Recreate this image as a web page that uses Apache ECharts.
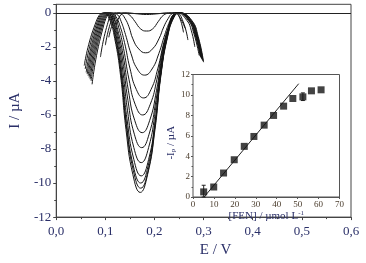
<!DOCTYPE html>
<html lang="en">
<head>
    <meta charset="UTF-8">
    <title>DPV FEN</title>
    <style>
        html, body { margin: 0; padding: 0; background: #fff; }
    </style>
</head>
<body>
    <div id="main" style="width: 366px;height:263px;"></div>
    <script src="https://cdn.jsdelivr.net/npm/echarts@6/dist/echarts.min.js"></script>
    <script type="text/javascript">
        var myChart = echarts.init(document.getElementById('main'));

        // voltammograms, [E / V, I / uA] (shallowest first)
        var curve0 = [[.122,-.7],[.132,-.1],[.142,0],[.165,-.06],[.184,-.1],[.205,-.06],[.228,0],[.240,0],[.252,-.3],[.262,-.9]];
        var curve1 = [[.107,-1.44],[.117,-.45],[.127,0],[.140,-.02],[.150,-.15],[.160,-.5],[.172,-.95],[.184,-1.07],[.196,-.95],[.208,-.5],[.218,-.15],[.230,-.02],[.244,0],[.252,-.35],[.259,-1.15]];
        var curve2 = [[.100,-1.9],[.111,-.55],[.122,0],[.132,-.06],[.140,-.33],[.148,-.82],[.156,-1.53],[.168,-2.12],[.182,-2.35],[.196,-2.12],[.209,-1.53],[.219,-.82],[.228,-.33],[.236,-.05],[.245,0],[.258,-.5],[.268,-1.6]];
        var curve3 = [[.090,-2.6],[.104,-.7],[.117,0],[.125,-.12],[.132,-.5],[.141,-1.28],[.152,-2.38],[.165,-3.3],[.180,-3.66],[.195,-3.3],[.209,-2.38],[.221,-1.28],[.231,-.5],[.239,-.08],[.246,0],[.266,-.45],[.275,-1.05],[.282,-2.0]];
        var curve4 = [[.073,-4.2],[.093,-1.13],[.113,0],[.121,-.2],[.129,-.7],[.139,-1.75],[.150,-3.25],[.163,-4.5],[.178,-5.0],[.193,-4.5],[.207,-3.25],[.219,-1.75],[.230,-.7],[.239,-.1],[.247,0],[.269,-.45],[.280,-1.2],[.291,-2.5]];
        var curve5 = [[.071,-4.0],[.091,-1.08],[.111,0],[.119,-.22],[.127,-.84],[.137,-2.1],[.148,-3.9],[.161,-5.4],[.176,-6.0],[.191,-5.4],[.205,-3.9],[.217,-2.1],[.229,-.84],[.238,-.12],[.248,0],[.270,-.45],[.282,-1.25],[.293,-2.55]];
        var curve6 = [[.069,-3.9],[.089,-1.05],[.109,0],[.117,-.25],[.125,-.98],[.136,-2.46],[.147,-4.58],[.160,-6.34],[.175,-7.04],[.190,-6.34],[.204,-4.58],[.216,-2.46],[.228,-.98],[.238,-.15],[.248,0],[.271,-.45],[.283,-1.25],[.294,-2.6]];
        var curve7 = [[.067,-3.8],[.087,-1.03],[.107,0],[.116,-.28],[.124,-1.1],[.135,-2.77],[.146,-5.15],[.159,-7.13],[.174,-7.92],[.189,-7.13],[.203,-5.15],[.215,-2.77],[.227,-1.1],[.238,-.18],[.249,0],[.272,-.45],[.284,-1.3],[.295,-2.65]];
        var curve8 = [[.065,-3.7],[.085,-1.0],[.105,0],[.114,-.3],[.123,-1.23],[.134,-3.08],[.145,-5.72],[.158,-7.92],[.173,-8.8],[.188,-7.92],[.202,-5.72],[.214,-3.08],[.226,-1.23],[.238,-.2],[.249,0],[.272,-.45],[.285,-1.3],[.296,-2.7]];
        var curve9 = [[.063,-3.6],[.083,-.97],[.103,0],[.113,-.3],[.122,-1.34],[.133,-3.35],[.144,-6.23],[.158,-8.62],[.173,-9.58],[.188,-8.62],[.202,-6.23],[.214,-3.35],[.226,-1.34],[.239,-.2],[.250,0],[.273,-.45],[.286,-1.35],[.297,-2.75]];
        var curve10 = [[.061,-3.5],[.081,-.95],[.101,0],[.111,-.3],[.121,-1.4],[.132,-3.5],[.143,-6.5],[.157,-9.0],[.172,-10.0],[.187,-9.0],[.201,-6.5],[.213,-3.5],[.226,-1.4],[.239,-.25],[.250,0],[.274,-.45],[.287,-1.35],[.298,-2.8]];
        var curve11 = [[.059,-3.3],[.079,-.9],[.099,0],[.110,-.35],[.120,-1.44],[.132,-3.6],[.143,-6.7],[.157,-9.27],[.172,-10.3],[.187,-9.27],[.201,-6.7],[.213,-3.6],[.226,-1.44],[.239,-.25],[.251,0],[.275,-.45],[.288,-1.4],[.299,-2.85]];
        var curve12 = [[.057,-3.1],[.077,-.85],[.097,0],[.108,-.35],[.119,-1.5],[.131,-3.7],[.142,-6.86],[.156,-9.5],[.171,-10.55],[.186,-9.5],[.201,-6.86],[.213,-3.7],[.226,-1.5],[.240,-.25],[.252,0],[.276,-.45],[.289,-1.4],[.300,-2.9]];
        var curves = [curve0, curve1, curve2, curve3, curve4, curve5, curve6, curve7, curve8, curve9, curve10, curve11, curve12];

        // inset: calibration
        var fenConc = [5.1, 9.9, 14.6, 19.7, 24.5, 29.1, 34.0, 38.5, 43.3, 47.7, 52.5, 56.6, 61.2];
        var ipValues = [0.5, 0.98, 2.35, 3.65, 4.96, 5.93, 7.04, 7.99, 8.9, 9.65, 9.81, 10.4, 10.5];
        var errBars = [[5.1, 0.0, 1.15], [52.5, 9.45, 10.2]]; // x, low, high
        var fitLine = [[5.3, 0], [50.5, 11.1]];

        var serif = "'Liberation Serif', 'Times New Roman', serif";
        var mainLabel = '#2a2f68';
        var insetLabel = '#4a3c2c';

        var series = [];
        for (var i = 0; i < curves.length; i++) {
            series.push({
                type: 'line',
                xAxisIndex: 0,
                yAxisIndex: 0,
                data: curves[i],
                smooth: 0.5,
                showSymbol: false,
                silent: true,
                lineStyle: { color: '#151515', width: 1 },
                z: 3
            });
        }
        // zero line across whole plot
        series[0].markLine = {
            silent: true,
            symbol: 'none',
            label: { show: false },
            lineStyle: { color: '#222', width: 1, type: 'solid' },
            data: [{ yAxis: 0 }]
        };

        var pts = [];
        for (var j = 0; j < fenConc.length; j++) pts.push([fenConc[j], ipValues[j]]);

        series.push({
            type: 'line',
            xAxisIndex: 1,
            yAxisIndex: 1,
            data: fitLine,
            showSymbol: false,
            silent: true,
            lineStyle: { color: '#222', width: 1 },
            z: 10
        });
        series.push({
            type: 'custom',
            xAxisIndex: 1,
            yAxisIndex: 1,
            data: errBars,
            z: 11,
            renderItem: function (params, api) {
                var lo = api.coord([api.value(0), api.value(1)]);
                var hi = api.coord([api.value(0), api.value(2)]);
                var st = { stroke: '#222', lineWidth: 1 };
                return {
                    type: 'group',
                    children: [
                        { type: 'line', shape: { x1: lo[0], y1: lo[1], x2: hi[0], y2: hi[1] }, style: st },
                        { type: 'line', shape: { x1: hi[0] - 2, y1: hi[1], x2: hi[0] + 2, y2: hi[1] }, style: st },
                        { type: 'line', shape: { x1: lo[0] - 2, y1: lo[1], x2: lo[0] + 2, y2: lo[1] }, style: st }
                    ]
                };
            }
        });
        series.push({
            type: 'scatter',
            xAxisIndex: 1,
            yAxisIndex: 1,
            data: pts,
            symbol: 'rect',
            symbolSize: 7,
            silent: true,
            itemStyle: { color: '#141414' },
            z: 12
        });

        var option = {
            animation: false,
            backgroundColor: '#fff',
            grid: [
                { left: 41.5, top: 4.3, width: 309.5, height: 221.4, show: true, borderColor: '#444', borderWidth: 1 },
                { left: 193, top: 74.5, width: 146.5, height: 122.5, show: true, borderColor: '#555', borderWidth: 1, backgroundColor: '#fff', z: 2 }
            ],
            xAxis: [
                {
                    gridIndex: 0, type: 'value', min: 0, max: 0.6, interval: 0.1,
                    name: 'E / V', nameLocation: 'middle', nameGap: 20,
                    nameTextStyle: { fontFamily: serif, fontSize: 15, color: mainLabel, padding: [0, 0, 0, 24] },
                    axisLine: { onZero: false, lineStyle: { color: '#444' } },
                    axisTick: { show: true, inside: false, length: 3, lineStyle: { color: '#444' } },
                    minorTick: { show: true, splitNumber: 2, length: 2, lineStyle: { color: '#444' } },
                    splitLine: { show: false },
                    axisLabel: {
                        margin: 8, fontFamily: serif, fontSize: 13, color: mainLabel,
                        formatter: function (v) { return v.toFixed(1).replace('.', ','); }
                    }
                },
                {
                    gridIndex: 1, type: 'value', min: 0, max: 70, interval: 10,
                    name: '{a|[FEN] / µmol L}{s|-1}', nameLocation: 'middle', nameGap: 13,
                    nameTextStyle: {
                        rich: {
                            a: { fontFamily: serif, fontSize: 11, color: mainLabel },
                            s: { fontFamily: serif, fontSize: 7, color: mainLabel, verticalAlign: 'top', padding: [0, 0, 5, 0] }
                        }
                    },
                    axisLine: { onZero: false, lineStyle: { color: '#555' } },
                    axisTick: { show: true, length: 2, lineStyle: { color: '#555' } },
                    minorTick: { show: false },
                    splitLine: { show: false },
                    axisLabel: { margin: 3, fontFamily: serif, fontSize: 9, color: insetLabel }
                }
            ],
            yAxis: [
                {
                    gridIndex: 0, type: 'value', min: -12, max: 0.5, interval: 2,
                    name: 'I / µA', nameLocation: 'middle', nameGap: 27,
                    nameTextStyle: { fontFamily: serif, fontSize: 15, color: mainLabel },
                    axisLine: { onZero: false, lineStyle: { color: '#444' } },
                    axisTick: { show: true, inside: false, length: 3, lineStyle: { color: '#444' } },
                    minorTick: { show: true, splitNumber: 2, length: 2, lineStyle: { color: '#444' } },
                    splitLine: { show: false },
                    axisLabel: { margin: 5, showMaxLabel: false, fontFamily: serif, fontSize: 13, color: mainLabel }
                },
                {
                    gridIndex: 1, type: 'value', min: 0, max: 12, interval: 2,
                    name: '{a|-I}{s|p}{a| / µA}', nameLocation: 'middle', nameGap: 16,
                    nameTextStyle: {
                        padding: [0, 14, 0, 0],
                        rich: {
                            a: { fontFamily: serif, fontSize: 11, color: mainLabel },
                            s: { fontFamily: serif, fontSize: 7, color: mainLabel, verticalAlign: 'bottom', padding: [4, 0, 0, 0] }
                        }
                    },
                    axisLine: { onZero: false, lineStyle: { color: '#555' } },
                    axisTick: { show: true, length: 2, lineStyle: { color: '#555' } },
                    minorTick: { show: true, splitNumber: 2, length: 1.5, lineStyle: { color: '#555' } },
                    splitLine: { show: false },
                    axisLabel: { margin: 3, fontFamily: serif, fontSize: 9, color: insetLabel }
                }
            ],
            series: series
        };

        myChart.setOption(option);
    </script>
</body>
</html>
